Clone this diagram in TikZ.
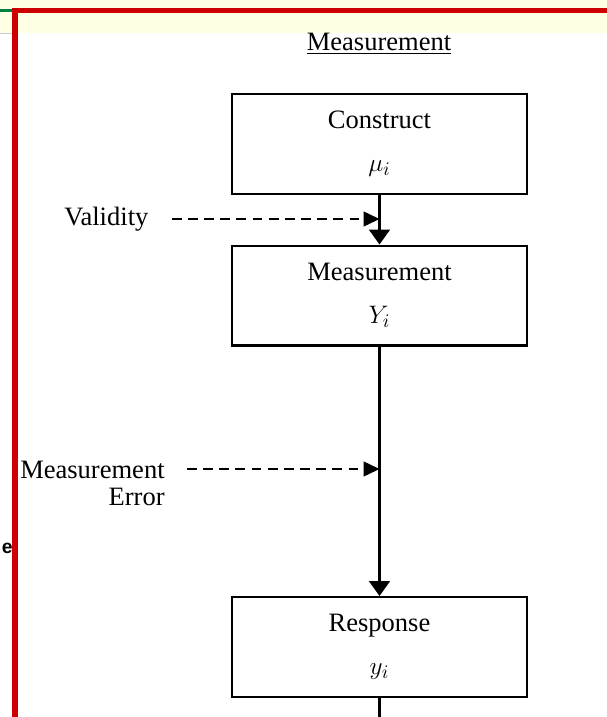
\documentclass[tikz,border=0pt]{standalone}
\usepackage{fontspec}
\setmainfont{Liberation Serif}
\newfontfamily\edgefont{Liberation Sans}
\usetikzlibrary{arrows.meta}

\definecolor{stripyellow}{RGB}{255,255,228}
\definecolor{framered}{RGB}{204,0,0}
\definecolor{tabgreen}{RGB}{0,128,64}

\begin{document}
\begin{tikzpicture}[x=0.02cm,y=-0.02cm,
  every node/.style={font=\fontsize{15.1}{15.5}\selectfont},
  stagebox/.style={draw,line width=1.15pt,minimum width=5.9cm,minimum height=2cm,
    inner sep=0pt,align=center},
  flow/.style={line width=1.15pt,-{Triangle[length=0.3cm,width=0.42cm]}},
  dashflow/.style={line width=0.8pt,dash pattern=on 5.6pt off 3.6pt,
    -{Triangle[length=0.32cm,width=0.3cm]}}]
  \useasboundingbox (0,0) rectangle (607,717);

  % Draw window edge
  \fill[stripyellow] (0,0) rectangle (607,33);
  \draw[gray!40,line width=0.5pt] (0,33) -- (12,33);
  \fill[tabgreen] (0,8.5) rectangle (12,11.5);
  \node[anchor=east,inner sep=0pt,font=\edgefont\bfseries\fontsize{11}{13}\selectfont] (cut) at (13,548) {e};
  \fill[framered] (12,7.5) rectangle (607,12.5);
  \fill[framered] (12,7.5) rectangle (17.5,717);

  % Draw title
  \node (title) at (379,44) {\underline{Measurement}};

  % Draw stages
  \node[stagebox] (construct) at (379.5,144) {Construct\\[9pt]$\mu_i$};
  \node[stagebox] (measure) at (379.5,295.5) {Measurement\\[9pt]$Y_i$};
  \node[stagebox] (response) at (379.5,647) {Response\\[9pt]$y_i$};
  \coordinate (bottom) at (379.5,717);

  % Draw connectors
  \draw[flow] (construct) -- (measure);
  \draw[flow] (measure) -- (response);
  \draw[line width=1.15pt] (response) -- (bottom);

  % Draw influences
  \node[anchor=west,inner sep=0pt] (validity) at (64,219) {Validity};
  \draw[dashflow,shorten <=0.46cm] (validity.east) -- (validity -| construct.south);
  \node[anchor=north east,inner sep=0pt,align=right] (error) at (165,461) {Measurement\\Error};
  \draw[dashflow] ([xshift=0.44cm,yshift=-0.16cm]error.north east) -- ([yshift=-0.16cm]error.north east -| measure.south);
\end{tikzpicture}
\end{document}
